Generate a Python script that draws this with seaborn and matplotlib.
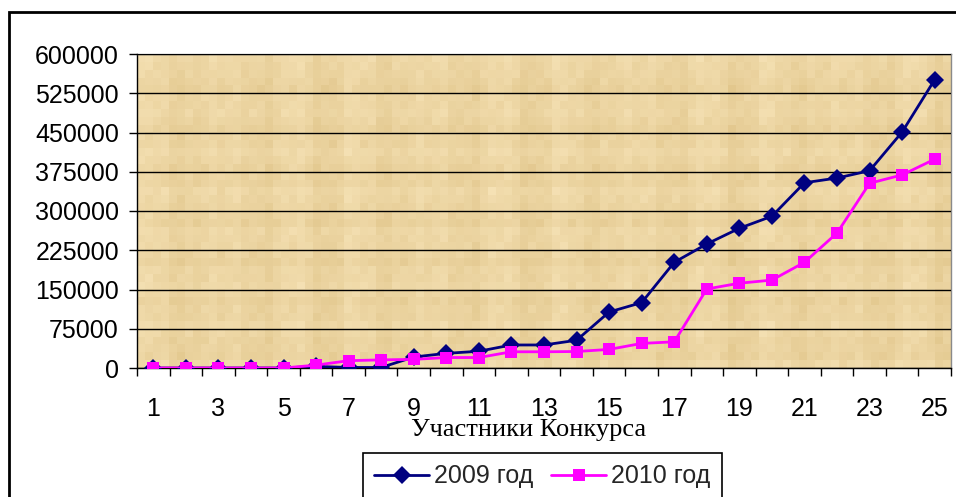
import numpy as np
import pandas as pd
import matplotlib
matplotlib.use("Agg")
import matplotlib.pyplot as plt
from matplotlib.patches import Rectangle
from matplotlib.ticker import FixedLocator, NullFormatter
import seaborn as sns

# Участники конкурса и суммы по годам
participants = list(range(1, 26))
values_2009 = [0, 0, 0, 0, 0, 3000, 1000, 1000, 21000, 28000, 32000, 44000, 44000,
               53000, 107000, 125000, 202000, 237000, 267000, 290000, 354000, 363000,
               377000, 451000, 551000]
values_2010 = [0, 0, 0, 0, 0, 5500, 14000, 15500, 16500, 20000, 20000, 31000, 31000,
               31500, 35500, 47000, 50000, 151000, 162000, 168000, 202000, 258000,
               353000, 369000, 399000]
series_names = ["2009 год", "2010 год"]
y_ticks = [0, 75000, 150000, 225000, 300000, 375000, 450000, 525000, 600000]
x_tick_labels = list(range(1, 26, 2))

df = pd.DataFrame({
    "Участник": participants * 2,
    "Сумма": values_2009 + values_2010,
    "Год": [series_names[0]] * 25 + [series_names[1]] * 25,
})

sns.set_theme(style="white")
plt.rcParams["font.family"] = ["Liberation Sans", "DejaVu Sans"]

W, H = 956, 497
fig = plt.figure(figsize=(W / 100, H / 100), dpi=100)
L, R, T, B = 137, 951, 54, 368
ax = fig.add_axes([L / W, 1 - B / H, (R - L) / W, (B - T) / H])

# papyrus-like background made of soft fibre blocks
ny, nx = 40, 102
yy, xx = np.mgrid[0:ny, 0:nx]
shade = (0.40 * np.sin(xx * 0.73 + 0.4) + 0.25 * np.sin(xx * 2.17 + 1.3)
         + 0.20 * np.sin(xx * 5.31 + 2.0) + 0.30 * np.sin(yy * 1.13 + 0.7)
         + 0.20 * np.sin(yy * 3.71 + 1.9) + 0.15 * np.sin((xx + yy) * 1.57)
         + 0.30 * np.sin(xx * 1.37 + 0.5) * np.sin(yy * 0.91 + 1.1)
         + 0.20 * np.sin(xx * 3.07 - yy * 2.29))
shade = (shade - shade.min()) / (shade.max() - shade.min())
light = np.array([245, 225, 180]) / 255
dark = np.array([226, 199, 141]) / 255
tex = dark[None, None, :] + (light - dark)[None, None, :] * shade[..., None]
ax.imshow(tex, extent=(0, 1, 0, 1), transform=ax.transAxes, aspect="auto",
          interpolation="nearest", zorder=0)

sns.lineplot(data=df, x="Участник", y="Сумма", hue="Год", style="Год",
             palette={series_names[0]: "#000080", series_names[1]: "#FF00FF"},
             markers={series_names[0]: "D", series_names[1]: "s"},
             dashes=False, linewidth=2.0, markersize=9, markeredgewidth=0,
             ax=ax, zorder=3, legend=False)

ax.set_xlim(0.5, 25.5)
ax.set_ylim(0, 600000)
ax.set_yticks(y_ticks)
ax.set_yticklabels([str(v) for v in y_ticks])
ax.yaxis.grid(True, color="black", linewidth=1.0)
ax.set_axisbelow(False)
for gl in ax.get_ygridlines():
    gl.set_zorder(1)

ax.set_xticks(x_tick_labels)
ax.set_xticklabels([str(v) for v in x_tick_labels])
ax.xaxis.set_minor_locator(FixedLocator(np.arange(0.5, 26, 1.0)))
ax.xaxis.set_minor_formatter(NullFormatter())
ax.tick_params(axis="x", which="major", length=0, pad=21, labelsize=18, colors="black")
ax.tick_params(axis="x", which="minor", length=6, width=1, direction="out",
               color="black", bottom=True)
ax.tick_params(axis="y", length=6, width=1, direction="out", pad=7,
               labelsize=18, colors="black", left=True)

for side in ["left", "bottom"]:
    ax.spines[side].set_color("black")
    ax.spines[side].set_linewidth(1.0)
    ax.spines[side].set_visible(True)
for side in ["top", "right"]:
    ax.spines[side].set_color("#8a8a8a")
    ax.spines[side].set_linewidth(1.0)
    ax.spines[side].set_visible(True)

ax.set_xlabel("")
ax.set_ylabel("")
fig.text(529 / W, 1 - 436 / H, "Участники Конкурса", ha="center", va="baseline",
         fontsize=19, family=["Liberation Serif", "DejaVu Serif"], color="black")

# legend
handles = [
    plt.Line2D([], [], color="#000080", marker="D", markersize=9, linewidth=2.0,
               markeredgewidth=0),
    plt.Line2D([], [], color="#FF00FF", marker="s", markersize=9, linewidth=2.0,
               markeredgewidth=0),
]
leg = fig.legend(handles, series_names, loc="upper left",
                 bbox_to_anchor=(363 / W, 1 - 453 / H), bbox_transform=fig.transFigure,
                 ncol=2, fontsize=18, frameon=True, fancybox=False, framealpha=1,
                 edgecolor="black", borderpad=0.45, handlelength=2.2,
                 handletextpad=0.2, columnspacing=0.7, borderaxespad=0)
leg.get_frame().set_linewidth(1.2)

# outer chart frame
fig.patches.append(Rectangle((9 / W, -0.1), 1.2, 1 - 12 / H + 0.1,
                             transform=fig.transFigure, fill=False,
                             edgecolor="black", linewidth=2.0))

fig.savefig("out.png", dpi=100, facecolor="white")
